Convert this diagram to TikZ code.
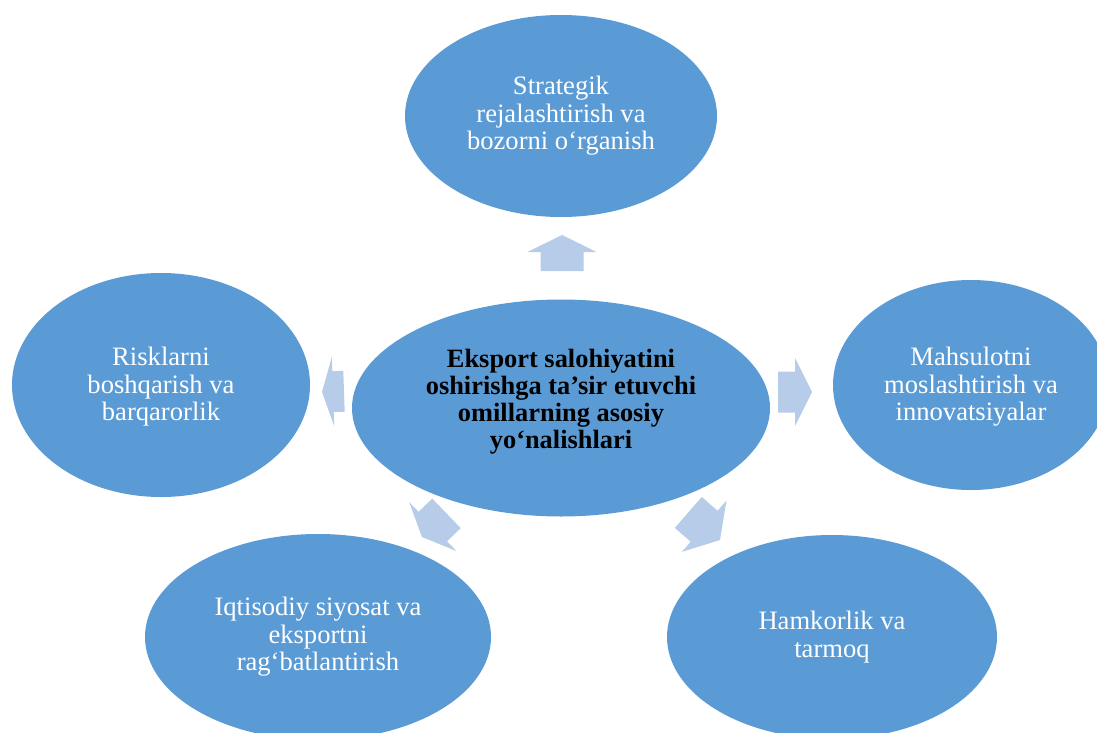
\documentclass[tikz,border=0pt]{standalone}
\usepackage{fontspec}
\setmainfont{Liberation Serif}
\usetikzlibrary{shapes.geometric}
\definecolor{ellblue}{HTML}{5B9BD5}
\definecolor{arrblue}{HTML}{B7CCE9}
\tikzset{
  oval/.style={ellipse, fill=ellblue, draw=none, inner sep=0pt},
  otext/.style={text=white, align=center, font=\fontsize{26.6}{27.5}\selectfont, inner sep=0pt},
  ctext/.style={text=black, align=center, font=\fontsize{26.4}{27}\selectfont\bfseries, inner sep=0pt},
  blockarr/.style={fill=arrblue, draw=none},
}
% #1 tip, #2 angle, #3 length, #4 head length, #5 head width, #6 shaft width
\newcommand{\blockarrow}[6]{%
  \begin{scope}[shift={#1}, rotate=#2]
    \fill[blockarr] (0,0) -- (-#4,{#5/2}) -- (-#4,{#6/2}) -- (-#3,{#6/2})
      -- (-#3,{-#6/2}) -- (-#4,{-#6/2}) -- (-#4,{-#5/2}) -- cycle;
  \end{scope}}
\begin{document}
\begin{tikzpicture}[x=1pt,y=-1pt]
  \clip (0,0) rectangle (1097,733);
  \fill[white] (0,0) rectangle (1097,733);

  \node[oval, minimum width=312pt, minimum height=202pt] (top) at (561,116) {};
  \node[otext] (toptext) at (top.center) {Strategik\\rejalashtirish va\\bozorni o‘rganish};

  \node[oval, minimum width=418pt, minimum height=217pt] (center) at (561,408) {};
  \node[ctext] (centertext) at (561,402) {Eksport salohiyatini\\oshirishga ta’sir etuvchi\\omillarning asosiy\\yo‘nalishlari};

  \node[oval, minimum width=298pt, minimum height=224pt] (left) at (161,385) {};
  \node[otext] (lefttext) at (161,387) {Risklarni\\boshqarish va\\barqarorlik};

  \node[oval, minimum width=276pt, minimum height=210pt] (right) at (971,385) {};
  \node[otext] (righttext) at (971,387) {Mahsulotni\\moslashtirish va\\innovatsiyalar};

  \node[oval, minimum width=346pt, minimum height=206pt] (bl) at (318,637) {};
  \node[otext] (bltext) at (bl.center) {Iqtisodiy siyosat va\\eksportni\\rag‘batlantirish};

  \node[oval, minimum width=330pt, minimum height=204pt] (br) at (832,637) {};
  \node[otext] (brtext) at (br.center) {Hamkorlik va\\tarmoq};

  % block arrows from the centre outwards
  \blockarrow{(562,235)}{90}{36}{17}{69}{43}
  \blockarrow{(812,392)}{0}{34}{17}{68}{41}
  \blockarrow{(322,392)}{182}{22}{11}{69}{41}
  \blockarrow{(422,537)}{-136}{34}{15}{68}{41}
  \blockarrow{(720,540)}{-41}{42}{21}{68}{41}
\end{tikzpicture}
\end{document}
